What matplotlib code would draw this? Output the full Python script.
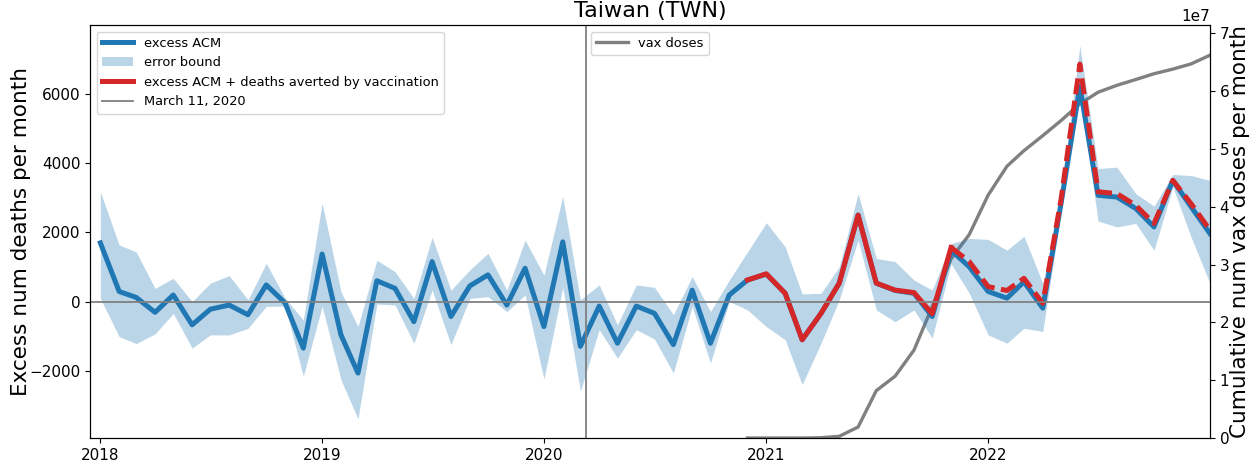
"""
Taiwan (TWN): excess all-cause mortality per month, with error bound,
the excess plus deaths averted by vaccination, and cumulative vax doses.
"""

import pandas as pd
import matplotlib.pyplot as plt

# ---------------------------------------------------------------------
# Data
# ---------------------------------------------------------------------

months = pd.date_range("2018-01-01", periods=61, freq="MS")

excess_acm = [
    1700, 300, 130, -300, 200, -660, -210, -90, -370, 490, -30, -1330,
    1380, -950, -2050, 610, 390, -570, 1160, -420, 460, 780, -90, 970,
    -710, 1730, -1280, -120, -1190, -120, -330, -1230, 340, -1190, 200, 630,
    800, 250, -1090, -330, 540, 2500, 540, 330, 250, -420, 1490, 1010,
    300, 110, 580, -180, 2830, 6200, 3070, 3020, 2690, 2160, 3500, 2740,
    1970,
]

upper_bound = [
    3170, 1640, 1440, 390, 680, 10, 540, 760, 60, 1110, 110, -520,
    2850, 300, -710, 1200, 870, 100, 1860, 340, 920, 1400, 340, 1780,
    770, 3040, 60, 490, -660, 490, 420, -370, 730, -280, 630, 1440,
    2280, 1590, 230, 250, 1010, 3120, 1250, 1160, 630, 340, 1680, 1830,
    1800, 1490, 1890, 540, 3050, 7380, 3840, 3880, 3120, 2760, 3670, 3640,
    3500,
]

lower_bound = [
    100, -1000, -1200, -920, -330, -1330, -950, -950, -760, -130, -120, -2140,
    -130, -2240, -3370, -60, -90, -1190, 340, -1230, 100, 150, -280, 200,
    -2220, 420, -2570, -800, -1620, -800, -1070, -2050, -130, -1760, 10, -230,
    -710, -1090, -2380, -1190, 60, 1780, -230, -570, -230, -1040, 1100, 250,
    -950, -1190, -760, -850, 2600, 6000, 2330, 2160, 2260, 1490, 3310, 1870,
    540,
]

# excess ACM + deaths averted by vaccination, from Dec 2020 on
vax_start = 35
excess_plus_averted = [
    630, 810, 250, -1090, -330, 540, 2500, 540, 340, 270, -340, 1570,
    1160, 440, 330, 680, -40, 2950, 6850, 3170, 3120, 2780, 2260, 3500,
    2830, 2070,
]
solid_until = 11  # index in excess_plus_averted where the dashed part begins

# cumulative vaccine doses (units of 1e7), from Dec 2020 on
vax_doses = [
    0, 0, 0, 0, 0.005, 0.03, 0.19, 0.82, 1.07, 1.52, 2.27, 3.10,
    3.52, 4.20, 4.70, 4.97, 5.23, 5.49, 5.78, 5.98, 6.10, 6.20, 6.30, 6.38,
    6.47, 6.62,
]

pandemic_date = pd.Timestamp("2020-03-11")

# ---------------------------------------------------------------------
# Figure
# ---------------------------------------------------------------------

fig = plt.figure(figsize=(12.59, 4.66), dpi=100)
ax = fig.add_axes([0.0715, 0.060, 0.8895, 0.886])
ax2 = ax.twinx()

vax_months = months[vax_start:]

# left axis: excess deaths
ax.fill_between(months, lower_bound, upper_bound, color="C0", alpha=0.3,
                linewidth=0, label="error bound")
ax.plot(months, excess_acm, color="C0", linewidth=3.6, label="excess ACM")
ax.plot(vax_months[:solid_until + 1], excess_plus_averted[:solid_until + 1],
        color="C3", linewidth=3.6,
        label="excess ACM + deaths averted by vaccination")
ax.plot(vax_months[solid_until:], excess_plus_averted[solid_until:],
        color="C3", linewidth=3.6, dashes=(3.2, 1.3))
ax.axvline(pandemic_date, color="gray", linewidth=1.3, label="March 11, 2020")
ax.axhline(0, color="gray", linewidth=1.3)

# right axis: cumulative vax doses
ax2.plot(vax_months, [v * 1e7 for v in vax_doses], color="gray",
         linewidth=2.4, label="vax doses")

# keep the death curves on top of the vax curve
ax.set_zorder(ax2.get_zorder() + 1)
ax.patch.set_visible(False)

ax.set_xlim(pd.Timestamp("2017-12-15"), pd.Timestamp("2023-01-01"))
ax.set_ylim(-3920, 7970)
ax2.set_ylim(0, 7.14e7)

ax.set_xticks(pd.date_range("2018-01-01", "2022-01-01", freq="YS"))
ax.set_xticklabels(["2018", "2019", "2020", "2021", "2022"])
ax.tick_params(labelsize=11)
ax2.tick_params(labelsize=11)
ax2.yaxis.get_offset_text().set_fontsize(11)

ax.set_ylabel("Excess num deaths per month", fontsize=15.5)
ax2.set_ylabel("Cumulative num vax doses per month", fontsize=15.5)
ax.yaxis.set_label_coords(-0.053, 0.5)
ax2.yaxis.set_label_coords(1.018, 0.5)
ax.set_title("Taiwan (TWN)", fontsize=16)

handles, labels = ax.get_legend_handles_labels()
order = [labels.index(name) for name in
         ["excess ACM", "error bound",
          "excess ACM + deaths averted by vaccination", "March 11, 2020"]]
ax.legend([handles[i] for i in order], [labels[i] for i in order],
          loc="upper left", fontsize=9.4, handlelength=2.4)
ax2.legend(loc="upper center", fontsize=9.4, handlelength=2.4)

fig.savefig("out.png", dpi=100)
